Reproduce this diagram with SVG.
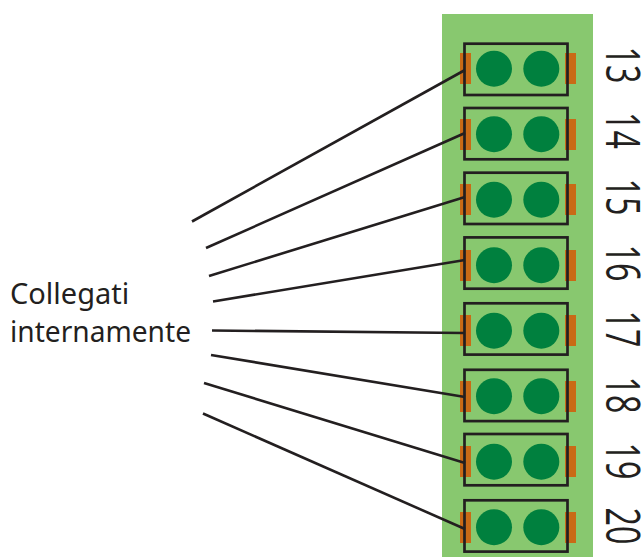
<svg xmlns="http://www.w3.org/2000/svg" width="643" height="557" viewBox="0 0 643 557">
<style>
.tab{fill:#c96a16}
.pin{fill:#00803e}
.box{fill:none;stroke:#231f20;stroke-width:2.7}
.num{font:400 47.5px "Open Sans","Noto Sans",sans-serif;fill:#231f20;text-anchor:middle}
.lab{font:29px "Noto Sans","Open Sans",sans-serif;fill:#231f20}
#connectors line{stroke:#231f20;stroke-width:2.6}
</style>
<defs>
<g id="t">
<rect class="tab" x="460" y="0" width="11" height="31"/>
<rect class="tab" x="565" y="0" width="11" height="31"/>
</g>
</defs>
<rect x="442" y="14" width="151" height="543" fill="#88c86f"/>
<g id="n13"><use href="#t" y="53"/><rect class="box" x="464.5" y="43.7" width="103" height="51.3"/><circle class="pin" cx="494" cy="68.7" r="18"/><circle class="pin" cx="541.3" cy="68.7" r="18"/><text class="num" transform="translate(606 65) rotate(90) scale(.68 1)">13</text></g>
<g id="n14"><use href="#t" y="119"/><rect class="box" x="464.5" y="108" width="103" height="51.3"/><circle class="pin" cx="494" cy="134.2" r="18"/><circle class="pin" cx="541.3" cy="134.2" r="18"/><text class="num" transform="translate(606 130.5) rotate(90) scale(.68 1)">14</text></g>
<g id="n15"><use href="#t" y="184"/><rect class="box" x="464.5" y="172.7" width="103" height="51.3"/><circle class="pin" cx="494" cy="199.7" r="18"/><circle class="pin" cx="541.3" cy="199.7" r="18"/><text class="num" transform="translate(606 197) rotate(90) scale(.68 1)">15</text></g>
<g id="n16"><use href="#t" y="250"/><rect class="box" x="464.5" y="237.4" width="103" height="51.3"/><circle class="pin" cx="494" cy="265.2" r="18"/><circle class="pin" cx="541.3" cy="265.2" r="18"/><text class="num" transform="translate(606 263) rotate(90) scale(.68 1)">16</text></g>
<g id="n17"><use href="#t" y="315"/><rect class="box" x="464.5" y="303.3" width="103" height="51.3"/><circle class="pin" cx="494" cy="330.7" r="18"/><circle class="pin" cx="541.3" cy="330.7" r="18"/><text class="num" transform="translate(606 329) rotate(90) scale(.68 1)">17</text></g>
<g id="n18"><use href="#t" y="381"/><rect class="box" x="464.5" y="369.8" width="103" height="51.3"/><circle class="pin" cx="494" cy="396.2" r="18"/><circle class="pin" cx="541.3" cy="396.2" r="18"/><text class="num" transform="translate(606 395) rotate(90) scale(.68 1)">18</text></g>
<g id="n19"><use href="#t" y="446"/><rect class="box" x="464.5" y="434" width="103" height="51.3"/><circle class="pin" cx="494" cy="461.7" r="18"/><circle class="pin" cx="541.3" cy="461.7" r="18"/><text class="num" transform="translate(606 461) rotate(90) scale(.68 1)">19</text></g>
<g id="n20"><use href="#t" y="512"/><rect class="box" x="464.5" y="500.3" width="103" height="51.3"/><circle class="pin" cx="494" cy="527.2" r="18"/><circle class="pin" cx="541.3" cy="527.2" r="18"/><text class="num" transform="translate(606 526) rotate(90) scale(.68 1)">20</text></g>
<g id="connectors">
<line x1="192" y1="221.5" x2="465" y2="70"/>
<line x1="206" y1="248" x2="465" y2="133"/>
<line x1="209" y1="276" x2="465" y2="197"/>
<line x1="213" y1="301.5" x2="465" y2="260"/>
<line x1="212" y1="330.5" x2="465" y2="333"/>
<line x1="211" y1="355" x2="465" y2="397"/>
<line x1="204" y1="383" x2="465" y2="463"/>
<line x1="203" y1="413.5" x2="465" y2="529"/>
</g>
<g id="label">
<text class="lab" x="10" y="304">Collegati</text>
<text class="lab" x="10" y="342" textLength="181" lengthAdjust="spacingAndGlyphs">internamente</text>
</g>
</svg>
